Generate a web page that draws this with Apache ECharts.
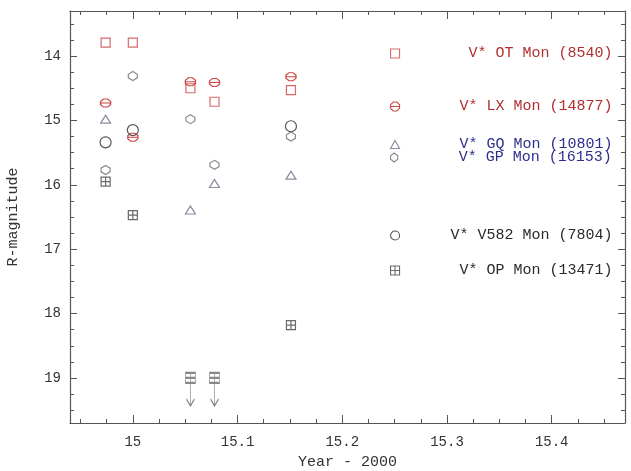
<!DOCTYPE html>
<html>
<head>
<meta charset="utf-8">
<script src="https://cdn.jsdelivr.net/npm/echarts@6/dist/echarts.min.js"></script>
<style>
  html, body { margin: 0; padding: 0; background: #fff; }
  #chart { width: 631px; height: 471px; }
</style>
</head>
<body>
<div id="chart"></div>
<script>
// axis ranges and tick labels
const xRange = [14.94, 15.47];
const yRange = [13.3, 19.7];
const xTicks = [15, 15.1, 15.2, 15.3, 15.4];
const yTicks = [14, 15, 16, 17, 18, 19];

// star names as in the legend
const starNames = [
  'V* OT Mon (8540)',
  'V* LX Mon (14877)',
  'V* GQ Mon (10801)',
  'V* GP Mon (16153)',
  'V* V582 Mon (7804)',
  'V* OP Mon (13471)'
];

// [year - 2000, R magnitude]
const otMon   = [[14.974, 13.79], [15.0, 13.79], [15.055, 14.50], [15.078, 14.71], [15.151, 14.53]];
const lxMon   = [[14.974, 14.73], [15.0, 15.26], [15.055, 14.40], [15.078, 14.41], [15.151, 14.32]];
const gqMon   = [[14.974, 14.98], [15.055, 16.39], [15.078, 15.98], [15.151, 15.85]];
const gpMon   = [[14.974, 15.77], [15.0, 14.31], [15.055, 14.98], [15.078, 15.69], [15.151, 15.25]];
const v582Mon = [[14.974, 15.34], [15.0, 15.15], [15.151, 15.09]];
const opMon   = [[14.974, 15.95], [15.0, 16.47], [15.151, 18.18]];
const opUpper = [[15.055, 19.0], [15.078, 19.0]]; // upper limits

// minor tick positions
const xMinor = [];
for (let i = 0; i <= 20; i++) xMinor.push(+(14.95 + i * 0.025).toFixed(3));
const yMinor = [];
for (let i = 0; i <= 24; i++) yMinor.push(+(13.5 + i * 0.25).toFixed(2));

const FONT = 'Liberation Mono';
const AXIS_COL = '#555';

const starData  = [otMon, lxMon, gqMon, gpMon, v582Mon, opMon];
const markColor = ['#d86a6a', '#d04545', '#8c8ca0', '#8a8a8a', '#555555', '#6a6a6a'];
const textColor = ['#b22e2e', '#b22e2e', '#2e2e8c', '#2e2e8c', '#2a2a2a', '#2a2a2a'];
const legendY   = [53, 106, 144, 157, 235, 270];
const symbols = [
  'path://M0,0L10,0L10,10L0,10Z',
  'path://M3,0L7,0L10,3L10,5L10,7L7,10L3,10L0,7L0,5L0,3Z M0,5L10,5',
  'path://M5,0L10,9L0,9Z',
  'path://M5,0L9,3L9,7L5,10L1,7L1,3Z',
  'path://M10,5A5,5,0,1,1,0,5A5,5,0,1,1,10,5Z',
  'path://M0,0L10,0L10,10L0,10Z M5,0L5,10 M0,5L10,5'
];
const symSize = [9, [10, 8], [10, 8], 9, 11, 9];

let myChart = echarts.init(document.getElementById('chart'));

function xAx(pos, major) {
  return {
    type: 'value', min: xRange[0], max: xRange[1], position: pos,
    axisLine: { show: major, lineStyle: { color: AXIS_COL, width: 1.2 } },
    axisTick: { inside: true, length: major ? 8 : 4, customValues: major ? xTicks : xMinor,
                lineStyle: { color: AXIS_COL, width: 1 } },
    axisLabel: { show: major && pos === 'bottom', customValues: xTicks, margin: 12,
                 fontFamily: FONT, fontSize: 14, color: '#333' },
    splitLine: { show: false }
  };
}
function yAx(pos, major) {
  return {
    type: 'value', min: yRange[0], max: yRange[1], inverse: true, position: pos,
    axisLine: { show: major, lineStyle: { color: AXIS_COL, width: 1.2 } },
    axisTick: { inside: true, length: major ? 7 : 4, customValues: major ? yTicks : yMinor,
                lineStyle: { color: AXIS_COL, width: 1 } },
    axisLabel: { show: major && pos === 'left', customValues: yTicks, margin: 9,
                 fontFamily: FONT, fontSize: 14, color: '#333' },
    splitLine: { show: false }
  };
}

const xAxes = [xAx('bottom', true), xAx('bottom', false), xAx('top', true), xAx('top', false)];
xAxes[0].name = 'Year - 2000';
xAxes[0].nameLocation = 'middle';
xAxes[0].nameGap = 32;
xAxes[0].nameTextStyle = { fontFamily: FONT, fontSize: 15, color: '#333' };
const yAxes = [yAx('left', true), yAx('left', false), yAx('right', true), yAx('right', false)];
yAxes[0].name = 'R-magnitude';
yAxes[0].nameLocation = 'middle';
yAxes[0].nameGap = 49;
yAxes[0].nameTextStyle = { fontFamily: FONT, fontSize: 15, color: '#333' };

const series = starNames.map(function (n, i) {
  return {
    name: n, type: 'scatter', xAxisIndex: 0, yAxisIndex: 0,
    symbol: symbols[i], symbolSize: symSize[i],
    itemStyle: { color: 'rgba(0,0,0,0)', borderColor: markColor[i], borderWidth: 1.2, opacity: 1 },
    data: starData[i]
  };
});
series.push({
  name: 'OP upper limits', type: 'scatter', xAxisIndex: 0, yAxisIndex: 0,
  symbol: 'path://M0,0L10,0L10,10L0,10Z M5,0L5,10 M0,5L10,5 M5,10L5,33 M1,26L5,33L9,26',
  symbolSize: [10, 33], symbolOffset: [0, 11.5], symbolKeepAspect: false,
  itemStyle: { color: 'rgba(0,0,0,0)', borderColor: '#6a6a6a', borderWidth: 1.2 },
  data: opUpper
});

const legends = starNames.map(function (n, i) {
  return {
    data: [n], left: 390, top: legendY[i] - 7, padding: 0,
    itemWidth: 9, itemHeight: 9, selectedMode: false,
    itemStyle: { borderWidth: 1.1 },
    formatter: '{t|{name}}',
    textStyle: {
      rich: { t: { width: 208, align: 'right', fontFamily: FONT, fontSize: 15,
                   lineHeight: 14, color: textColor[i] } }
    }
  };
});

myChart.setOption({
  animation: false,
  backgroundColor: '#fff',
  grid: { left: 70, right: 6, top: 11, bottom: 48, outerBoundsMode: 'none' },
  xAxis: xAxes,
  yAxis: yAxes,
  legend: legends,
  series: series
});
</script>
</body>
</html>
